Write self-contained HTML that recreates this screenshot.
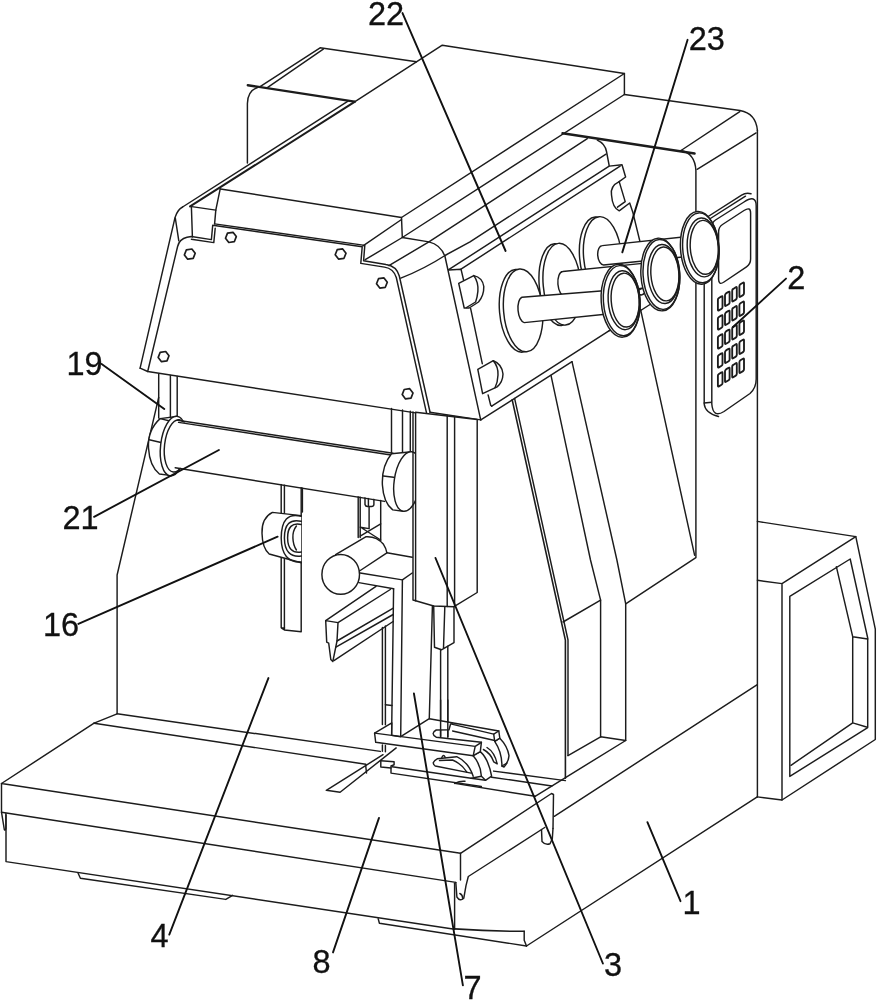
<!DOCTYPE html>
<html><head><meta charset="utf-8"><title>Fig</title>
<style>
html,body{margin:0;padding:0;background:#fff}
svg{display:block}
.g{stroke:#1c1c1c;stroke-width:1.45;fill:none;stroke-linecap:round;stroke-linejoin:round}
.w{fill:#fff}
.t{stroke-width:2.4}
.m{stroke-width:1.6}
.l{stroke:#111;stroke-width:1.9;fill:none;stroke-linecap:round}
text{font-family:"Liberation Sans",sans-serif;font-size:32.5px;fill:#111;stroke:#111;stroke-width:0.3px}
</style></head><body>
<svg width="877" height="1000" viewBox="0 0 877 1000">
<rect x="0" y="0" width="877" height="1000" fill="#fff" stroke="none"/>
<g class="g">
<!-- 10_base.svg -->
<!-- base body, column, side box -->
<path d="M757.3,684.6 L554.3,816.3"/>
<path d="M757.3,796.9 L526.5,946"/>
<path d="M757.4,130.4 V796.9"/>
<!-- side box -->
<path d="M757.4,521.4 L855.8,536.6 L875.3,629.2 V739.5 L782,800 L757.3,796.9"/>
<path d="M855.8,536.6 L782,583.6 L757.4,580.3 M782,583.6 V800"/>
<path d="M789.8,596.4 L850.2,559 L867.7,638 V727.6 L789.8,776.4 Z"/>
<path d="M836.4,566.8 L852.7,636.7 L867.7,639 M852.7,636.7 V722.9 L866.5,727 M852.7,722.9 L791,765.3"/>
<!-- column top -->
<path d="M624.4,94.5 L740,110.5 Q756,113.5 757.4,130.4"/>
<path class="t" d="M562.5,133.3 L694.6,153.5"/>
<path d="M681,150.5 Q695,153.5 695.9,170.5 V557.7 L625.7,603.9"/>
<path d="M681,150.5 L739.8,111.6 M697.1,169.3 L756.1,132.9"/>

<!-- 20_panels.svg -->
<!-- lower panels on the column front -->
<path class="m" d="M512.2,399.9 L565.4,640.2 V778.2"/>
<path d="M514.6,398.4 L568,640 V755.6"/>
<path d="M572,361.7 L616.9,560 L625.7,603.9 V740.5"/>
<path d="M551,375.4 L590.5,560 L600.6,600.1 V736.8"/>
<path d="M563,622 L600.6,600.1"/>
<path d="M600.6,736.8 L625.7,740.5 M600.6,736.8 L568,755.6 M625.7,740.5 L535.1,796.3"/>

<!-- 30_table.svg -->
<!-- table -->
<path d="M94.1,723.2 L1.5,783.5 L460.5,853.3 L551.5,793.5 L553.5,794.5 L553,828.4"/>
<path d="M94.1,723.2 L365.8,764.3"/>
<path d="M1.5,783.5 V812.2 L4.3,829.5 Q5.3,831 5.9,828.5 V813.5"/>
<path d="M1.5,812.2 L455.8,882.4"/>
<path d="M6,815 V861.6 L454.6,929.3"/>
<path d="M460.5,853.3 V880 M455.8,882.4 L456.9,897 Q460,901.8 463.8,898.2 L466,885.6 L468.3,876.5 L544.7,827.5"/>
<path d="M541.5,829.6 L542,841.5 Q545.5,845.5 550,843.8 L552.3,838.7 L553,828.4"/>
<path d="M459.8,893.5 Q462.5,894.5 462.8,898.5"/>
<path d="M454.6,883.3 V928.9"/>
<path class="m" d="M454.6,928.9 Q490,931.5 524.2,931.2"/>
<path d="M524.2,931.2 V940.3 L526.5,946"/>
<path d="M78,873 L80.4,878.2 L225.8,899.4 L232.6,895.3"/>
<path d="M378.2,918.7 L379.4,923.2 L526.5,946"/>
<!-- slot -->
<path d="M383,754.7 L326.3,790.3 L340.1,792.3 L396.2,747.9"/>
<path d="M365.6,764.6 L366.5,773"/>
<!-- body left (4) -->
<path d="M158.7,397.4 L117.1,575 V713.8 L94.1,723.2"/>
<path d="M117.1,713.8 L380.3,751.4"/>

<!-- 40_head.svg -->
<!-- rear box -->
<path d="M259.7,86.8 L320.1,47.8 L416.5,61.7"/>
<path d="M267,87.8 L323.3,49.2"/>
<path class="t" d="M247.8,85.2 L354.6,101.6"/>
<path d="M247.4,163 V103.5 Q247.6,90.5 258.1,87.2"/>
<!-- top slab -->
<path d="M355,101.7 L442.3,45.2 L624.4,73.5 V94.5"/>
<path class="m" style="stroke-width:2" d="M190.1,206.4 L355,101.7"/>
<path d="M182.6,207 L348,101.2"/>
<path d="M220.5,189 L401.5,217.5 L624.4,73.5"/>
<path d="M401.5,217.5 L402.3,237.5 L624.4,94.5"/>
<!-- front-left corner of head -->
<path d="M140.1,368.2 L175,217.6 Q177.5,209.5 182.6,207"/>
<path d="M140.1,368.2 L147.7,371.5"/>
<path d="M175.3,218 L178.8,240.8"/>
<path d="M190.1,206.4 L215.8,210.1"/>
<path d="M220.2,188.8 L215.8,210.1 L214.6,223.9"/>
<path d="M191.4,207 L192.4,237"/>
<!-- front plate outline -->
<path d="M147.7,371.5 L177.6,246.5 Q179.5,239 187,237.3 L191.4,236.5 L211.4,239.6 L212.7,225.2 L362.2,246.8 L360.8,263.4 L384.5,267.1 Q393.5,268.5 396.3,277.5 L426.9,414.6 Z"/>
<path d="M191.4,239.3 L213.8,242.6 L215.2,228.2 M214.6,223.9 L364.8,245.4 L363.6,260.7 L386,264.5 Q396.5,266 399.3,276 L430,412"/>
<!-- bevel lines to slab -->
<path d="M363,245.8 L401.5,219.5"/>
<path d="M365.2,259.7 L402.3,237.5"/>
<!-- right bevel of head -->
<path d="M402.3,237.5 L428.9,241.9 Q440.5,244.5 445,256.5 L480.7,419.8"/>
<path d="M429.9,412.3 L480.7,419.9"/>
<!-- head underside right -->
<path d="M480.8,419.9 L572,361.7"/>
<path d="M491.7,406.2 L608.9,330.9"/>
<!-- clip line -->
<path d="M448.7,270 L461,269.2 L463.8,281 M470.6,308.4 L482.3,363.7 M488.1,394.9 L490.7,405.3 L491.7,406.2"/>

<!-- 45_panel.svg -->
<!-- control panel (2) -->
<path d="M704.2,219 L741.6,195.2 Q746,192.3 751,193.8"/>
<path d="M708,220 L745.5,196.2"/>
<path d="M704.2,219 V404 Q705,413 718.5,416.5"/>
<path d="M704.2,403 L711.8,402.3"/>
<path class="w" d="M711.8,227 Q711.8,222.5 715.5,220 L744,202 Q756.2,194 756.2,206 V379 Q756.2,388 750,393.5 L724,411.5 Q713,418.5 711.8,404 Z"/>
<path d="M718.6,232 Q718.6,227 722.5,224.5 L744,210.5 Q750.6,206.3 750.6,213 V259 Q750.6,264 746.5,266.8 L724,282 Q718.6,285.8 718.6,279 Z"/>
<g style="stroke-width:1.85">
<path d="M717.9,299.8 Q717.9,298.6 718.9,298.0 L721.5,296.4 Q722.5,295.7 722.5,296.9 V306.9 Q722.5,308.1 721.5,308.8 L718.9,310.4 Q717.9,311.0 717.9,309.8 Z"/>
<path d="M725.0,295.2 Q725.0,294.1 726.0,293.4 L728.6,291.8 Q729.6,291.2 729.6,292.4 V302.4 Q729.6,303.6 728.6,304.2 L726.0,305.8 Q725.0,306.4 725.0,305.2 Z"/>
<path d="M732.2,290.7 Q732.2,289.5 733.2,288.9 L735.8,287.2 Q736.8,286.6 736.8,287.8 V297.8 Q736.8,299.0 735.8,299.6 L733.2,301.2 Q732.2,301.9 732.2,300.7 Z"/>
<path d="M739.4,286.2 Q739.4,285.0 740.4,284.3 L743.0,282.7 Q744.0,282.1 744.0,283.3 V293.3 Q744.0,294.5 743.0,295.1 L740.4,296.7 Q739.4,297.4 739.4,296.2 Z"/>
<path d="M717.9,318.8 Q717.9,317.6 718.9,317.0 L721.5,315.4 Q722.5,314.7 722.5,315.9 V325.9 Q722.5,327.1 721.5,327.8 L718.9,329.4 Q717.9,330.0 717.9,328.8 Z"/>
<path d="M725.0,314.2 Q725.0,313.1 726.0,312.4 L728.6,310.8 Q729.6,310.2 729.6,311.4 V321.4 Q729.6,322.6 728.6,323.2 L726.0,324.8 Q725.0,325.4 725.0,324.2 Z"/>
<path d="M732.2,309.7 Q732.2,308.5 733.2,307.9 L735.8,306.2 Q736.8,305.6 736.8,306.8 V316.8 Q736.8,318.0 735.8,318.6 L733.2,320.2 Q732.2,320.9 732.2,319.7 Z"/>
<path d="M739.4,305.2 Q739.4,304.0 740.4,303.3 L743.0,301.7 Q744.0,301.1 744.0,302.3 V312.3 Q744.0,313.5 743.0,314.1 L740.4,315.7 Q739.4,316.4 739.4,315.2 Z"/>
<path d="M717.9,337.8 Q717.9,336.6 718.9,336.0 L721.5,334.4 Q722.5,333.7 722.5,334.9 V344.9 Q722.5,346.1 721.5,346.8 L718.9,348.4 Q717.9,349.0 717.9,347.8 Z"/>
<path d="M725.0,333.2 Q725.0,332.1 726.0,331.4 L728.6,329.8 Q729.6,329.2 729.6,330.4 V340.4 Q729.6,341.6 728.6,342.2 L726.0,343.8 Q725.0,344.4 725.0,343.2 Z"/>
<path d="M732.2,328.7 Q732.2,327.5 733.2,326.9 L735.8,325.2 Q736.8,324.6 736.8,325.8 V335.8 Q736.8,337.0 735.8,337.6 L733.2,339.2 Q732.2,339.9 732.2,338.7 Z"/>
<path d="M739.4,324.2 Q739.4,323.0 740.4,322.3 L743.0,320.7 Q744.0,320.1 744.0,321.3 V331.3 Q744.0,332.5 743.0,333.1 L740.4,334.7 Q739.4,335.4 739.4,334.2 Z"/>
<path d="M717.9,356.8 Q717.9,355.6 718.9,355.0 L721.5,353.4 Q722.5,352.7 722.5,353.9 V363.9 Q722.5,365.1 721.5,365.8 L718.9,367.4 Q717.9,368.0 717.9,366.8 Z"/>
<path d="M725.0,352.2 Q725.0,351.1 726.0,350.4 L728.6,348.8 Q729.6,348.2 729.6,349.4 V359.4 Q729.6,360.6 728.6,361.2 L726.0,362.8 Q725.0,363.4 725.0,362.2 Z"/>
<path d="M732.2,347.7 Q732.2,346.5 733.2,345.9 L735.8,344.2 Q736.8,343.6 736.8,344.8 V354.8 Q736.8,356.0 735.8,356.6 L733.2,358.2 Q732.2,358.9 732.2,357.7 Z"/>
<path d="M739.4,343.2 Q739.4,342.0 740.4,341.3 L743.0,339.7 Q744.0,339.1 744.0,340.3 V350.3 Q744.0,351.5 743.0,352.1 L740.4,353.7 Q739.4,354.4 739.4,353.2 Z"/>
<path d="M717.9,375.8 Q717.9,374.6 718.9,374.0 L721.5,372.4 Q722.5,371.7 722.5,372.9 V382.9 Q722.5,384.1 721.5,384.8 L718.9,386.4 Q717.9,387.0 717.9,385.8 Z"/>
<path d="M725.0,371.2 Q725.0,370.1 726.0,369.4 L728.6,367.8 Q729.6,367.2 729.6,368.4 V378.4 Q729.6,379.6 728.6,380.2 L726.0,381.8 Q725.0,382.4 725.0,381.2 Z"/>
<path d="M732.2,366.7 Q732.2,365.5 733.2,364.9 L735.8,363.2 Q736.8,362.6 736.8,363.8 V373.8 Q736.8,375.0 735.8,375.6 L733.2,377.2 Q732.2,377.9 732.2,376.7 Z"/>
<path d="M739.4,362.2 Q739.4,361.0 740.4,360.3 L743.0,358.7 Q744.0,358.1 744.0,359.3 V369.3 Q744.0,370.5 743.0,371.1 L740.4,372.7 Q739.4,373.4 739.4,372.2 Z"/>
</g>

<!-- 50_side.svg -->
<!-- head right side lines -->
<path d="M388.9,265.6 L428.9,241.9 L587.3,138.7"/>
<path d="M400.8,278.2 Q425,268.5 445,255.5 L470,241.9 L540,196.5 L606,154.2"/>
<path d="M448.7,269.7 L609.2,166.1 L622,164.7 L625.6,177 L619.2,181.6"/>
<path d="M461,269.2 L620.1,166.1"/>
<path d="M597.3,140.1 Q605,143.5 606.5,151.5 L609.2,165.6"/>
<!-- right clip -->
<path d="M619.2,181.6 Q610,186 611.5,195 Q612.5,208 619.2,210.8 L629.7,203 L632.9,212.6 L640.3,243"/>
<path d="M619.2,181.6 L625.2,201.6 L617.5,207.2"/>
<!-- upper-left clip -->
<path class="w" d="M458.7,283.3 L473.8,275.6 Q482.5,277.5 483.8,286.5 Q484,295.5 478.5,302 L469.2,308 L464.2,308 Z"/>
<path d="M473.8,275.6 Q478.5,282 477.9,291.1 Q477.3,297.5 475.6,302 L466.5,307.5"/>
<!-- lower-left clip -->
<path class="w" d="M477.8,369.4 L493.3,360.7 Q502,364 503,374 Q502.8,382 497.1,386.9 L482.6,393.7 Z"/>
<path d="M493.3,360.7 Q498.5,367 498,375 Q497.8,382 495,387.8"/>
<!-- discs -->
<g transform="rotate(-5 600.6 256.7)"><ellipse class="w" cx="598.6" cy="256.7" rx="19" ry="40"/><ellipse class="w" cx="602.6" cy="256.7" rx="19" ry="40"/></g>
<g transform="rotate(-5 560 284.4)"><ellipse class="w" cx="558" cy="284.4" rx="18.8" ry="41"/><ellipse class="w" cx="562" cy="284.4" rx="18.8" ry="41"/></g>
<g transform="rotate(-5 521 310.6)"><ellipse class="w" cx="519" cy="310.6" rx="19.5" ry="41.5"/><ellipse class="w" cx="523.1" cy="310.6" rx="19.5" ry="41.5"/></g>
<!-- underside line continuing behind knobs -->
<path d="M608.9,330.9 L650,304.5"/>
<path d="M640.5,309.2 L694.6,555.2"/>
<!-- rod 3 + knob 3 -->
<path class="w" d="M690,236.3 L602.3,245.6 A5.2,9.7 -5 0 0 603.6,265 L690,256.2"/>
<g transform="rotate(-3.6 700 248)">
<ellipse class="w" cx="699.7" cy="247.9" rx="19.2" ry="36.4"/>
<ellipse cx="700.8" cy="247.9" rx="18.1" ry="35"/>
<ellipse cx="702.9" cy="247.6" rx="15.6" ry="29.5"/>
<ellipse cx="704.3" cy="247.6" rx="14" ry="27"/>
</g>
<!-- rod 2 + knob 2 -->
<path class="w" d="M650,262.6 L562.7,271.5 A5.8,12.3 -5 0 0 564.8,296.2 L650,287.4"/>
<path d="M639,290 Q642,287.5 644.5,288.5 M639.5,294.5 Q642.5,296 645,292.5"/>
<g transform="rotate(-3.6 660.3 274.5)">
<ellipse class="w" cx="660.3" cy="274.5" rx="19.4" ry="36.4"/>
<ellipse cx="661.4" cy="274.5" rx="18.3" ry="35"/>
<ellipse cx="663.5" cy="274.2" rx="15.6" ry="29.5"/>
<ellipse cx="664.9" cy="274.2" rx="14" ry="27"/>
</g>
<!-- rod 1 + knob 1 -->
<path class="w" d="M610,290.3 L522,297.3 A5.8,12.8 -5 0 0 524.2,322.6 L610,313.8"/>
<g transform="rotate(-3.6 620.6 300.7)">
<ellipse class="w" cx="620.6" cy="300.7" rx="19.4" ry="36.5"/>
<ellipse cx="621.7" cy="300.7" rx="18.3" ry="35.1"/>
<ellipse cx="623.8" cy="300.4" rx="15.6" ry="29.5"/>
<ellipse cx="625.2" cy="300.4" rx="14" ry="27"/>
</g>

<!-- 60_mid.svg -->
<!-- bracket 19 verticals and other verticals below head -->
<path d="M158.7,374 V418 M170.4,375.5 V419 M177.2,376.5 V416"/>
<path d="M391.5,408.5 V453 M402.5,410 V452 M410.3,411.3 V452"/>
<!-- strip behind roller -->
<path d="M281.2,484 V627.8 L284.4,630 L301.2,631.7 V487 M284.4,485 V630 M281.2,627.8 L284.6,627.9"/>
<path d="M302.4,488 V512"/>
<!-- things behind roller right -->
<path d="M358.2,495.7 V537.5 M360.2,496 V537.5 M380.7,498.5 V540.2"/>
<path d="M365,497 V504.5 Q365.5,506.5 367.5,506.5 H371.5 Q373.7,506.5 373.9,504.5 V498.5 M368.4,497.5 V506.3 M369.1,506.5 V528"/>
<path d="M360.2,527.2 L369.1,528.6 M360.2,536.1 L380.7,523.8 M361,527.5 L380.7,540"/>
<!-- cylinder 16 -->
<path class="w" d="M301.2,515.6 L272.4,512.4 Q261.5,518 262,533.2 Q262.3,548 269.2,554 L301.2,562.8"/>
<path d="M301.2,516.3 Q281.5,511 281.2,538 Q281.5,563 301.2,562"/>
<path d="M301.2,521.3 Q284.3,517.5 284.4,538 Q284.6,558 301.2,556"/>
<path d="M301.2,524.5 Q287.5,521.5 287.6,538 Q287.8,554 301.2,552"/>
<path d="M296.4,526 Q292.5,531 292.9,538 Q293.1,545 296.4,550"/>
<!-- roller 21 -->
<path class="w" d="M176.5,416.5 L160.1,418.6 Q147.5,430 148.5,448 Q149.5,466 159.4,474 L169.7,475.4"/>
<path d="M160.1,418.6 L171,421.2 M149.2,439.8 L161,442.5"/>
<g transform="rotate(6.6 173.1 446)"><ellipse class="w" cx="173.6" cy="446" rx="13" ry="30"/><ellipse cx="176.2" cy="445.5" rx="11.7" ry="26.3"/></g>
<path class="w" stroke="none" d="M178.5,421.8 L393,454.5 L384.6,500.4 L175.5,467 Q185,446 178.5,421.8 Z"/>
<path d="M177.6,420.2 L393,453.2 M178.6,422.4 L392.6,455.2"/>
<path d="M175.2,467.8 L384.6,501.4"/>
<!-- right ring -->
<path class="w" d="M391.5,453.7 Q381.5,466 382.4,485 Q383.5,503 392.8,509.9 L403.2,511.2 L411.8,451.8 Z"/>
<path d="M383.3,476 L393.5,477.3"/>
<g transform="rotate(8.2 407.5 481.5)"><ellipse class="w" cx="407.5" cy="481.5" rx="13.3" ry="30"/></g>
<!-- needle bar housing -->
<path class="w" d="M415.6,412.2 V600.8 L433.7,606 L454,606.7 L477.2,592.5 V419.5 Z"/>
<path d="M413,412 V600 L415.6,600.8 M447.2,415.5 V606.4 M454.6,416.5 V606.5"/>
<path d="M433.7,606 L434.5,647.2 L441.4,649.8 L454,642.7 V606.7 M444.8,607 L443.5,648.5"/>
<path d="M440.6,649.5 V736.5 M447.8,646.3 V737"/>
<!-- horizontal cylinder + bracket 7 -->
<path d="M386.9,552.8 L412.2,557.3 M360.2,573 L402.4,579.9 L412.2,573 M358.8,582.6 L393.6,588.8"/>
<path d="M393.6,588.8 L391.6,735.3 M402.4,579.9 L400.7,736.7 M432.4,606.5 L429.3,718"/>
<path class="w" d="M335.6,554.6 L365.7,536.8 Q376.6,536 383.5,544.3 Q386,548 386.9,552.8 L359.5,571 Z"/>
<ellipse class="w" cx="340.7" cy="574.4" rx="18.8" ry="19.9"/>
<!-- angled bar -->
<path d="M325.7,620.6 L338,622.6 L337,641 L332.8,661.6 L330.8,659.5 L328.7,643.1 L326.7,642.1 Z"/>
<path d="M325.7,620.6 L376,586.3 M338,622.6 L390.3,589.5 M337,641 L393.3,608.2 M335.9,647.2 L393.2,614.5 M333.9,660.6 L393.1,621.5"/>
<path d="M382.4,627.5 V724.6 M385.4,626 V724.8"/>
<path d="M385.4,704.7 L392,705.5"/>

<!-- 70_foot.svg -->
<!-- table lines near foot -->
<path d="M454.7,783.4 L535.1,796.3 M493.7,771.1 L565.4,780.6 M491.6,777.2 L551.9,786"/>
<path d="M454.7,783.4 Q460,780.8 465,781.3"/>
<!-- lower plate -->
<path d="M380.8,760.8 L394.1,761.8 V764.8 L391,766 V773.1 L481.4,786.5"/>
<path d="M380.8,760.8 V767 L391,768 M392.1,766.8 L471.1,778.3"/>
<!-- lower hole + sled arc -->
<path d="M435.2,766 Q430.5,762.5 437.2,758.8 L456.7,756.7 Q468.5,762 473.2,776.2 M435.2,766 L471.1,773.1"/>
<path d="M439.5,760.5 L452.5,760 Q462,764 467,772.3"/>
<path d="M441.8,757.6 Q443.4,753.6 445.2,757.4"/>
<!-- back leg -->
<path class="w" d="M494.7,741.3 L499.8,738.2 Q507.5,746 509,755.7 Q508.5,762 504,767 L501.9,766 Q502,752 494.7,741.3 Z"/>
<path d="M501.9,766 L507,763"/>
<path d="M483.4,749.5 Q491,753.5 493.7,761.8 M487,747.5 Q494.5,752 497.2,763.8 M493.7,761.8 L497.2,763.8"/>
<!-- front leg -->
<path class="w" d="M473.2,755.7 L480.3,751.6 Q488.5,759 491.6,776.2 L485.5,780.3 L471.1,778.3 L481.4,776.2 Q480.5,764 473.2,755.7 Z"/>
<path d="M481.4,776.2 L485.5,780.3"/>
<!-- upper plate (fork) -->
<path class="w" d="M374.6,733.1 L391.8,722.8 L391.6,735.3 L400.7,736.7 L429.3,718.7 L498.8,731 L499.8,738.2 L494.7,741.3 L493.7,734.1 L450.6,723.9 L449,729.8 L436.2,730 Q430,733.5 436.2,737.2 L481.4,742.3 L480.3,751.6 L473.2,755.7 L375.7,742.3 Z"/>
<path d="M374.6,733.1 L475.2,746.4 L473.2,755.7 M475.2,746.4 L481.4,742.3 M493.7,734.1 L498.8,731 M452.6,731 L493.7,740.3"/>
<!-- arm bits below plate -->
<path d="M382.4,745 V751.3 M385.4,745.4 V751.8"/>
<!-- needle -->
<path d="M440.6,700 V736.5 M447.8,700 V737"/>

<!-- 80_bolts.svg -->
<!-- hex bolts -->
<g style="stroke-width:1.7">
<polygon points="195.2,253.3 193.2,258.4 187.7,259.2 184.4,254.9 186.4,249.8 191.9,249.0"/>
<polygon points="236.3,236.6 234.3,241.7 228.8,242.5 225.5,238.2 227.5,233.1 233.0,232.3"/>
<polygon points="169.0,355.8 167.0,360.9 161.5,361.7 158.2,357.4 160.2,352.3 165.7,351.5"/>
<polygon points="346.0,253.2 344.0,258.3 338.5,259.1 335.2,254.8 337.2,249.7 342.7,248.9"/>
<polygon points="387.3,282.2 385.3,287.3 379.8,288.1 376.5,283.8 378.5,278.7 384.0,277.9"/>
<polygon points="413.0,393.0 411.0,398.1 405.5,398.9 402.2,394.6 404.2,389.5 409.7,388.7"/>
</g>

<!-- 90_labels.svg -->
</g><g style="filter:grayscale(1)">
<!-- leaders -->
<path class="l" d="M402.5,13.1 L505.6,251"/>
<path class="l" d="M687.6,39.8 L622.3,252.4"/>
<path class="l" d="M786,278.6 L733,327"/>
<path class="l" d="M101.6,363.9 L164.3,409"/>
<path class="l" d="M94.1,516.8 L218.9,450"/>
<path class="l" d="M78.4,623.9 L277.6,536.7"/>
<path class="l" d="M268.4,678.1 L169.3,934.6"/>
<path class="l" d="M379,817.9 L333,952.4"/>
<path class="l" d="M413.9,693.4 L462.9,985.4"/>
<path class="l" d="M435.5,558 L602.9,963.5"/>
<path class="l" d="M647.4,822.2 L680.5,901.2"/>
<text x="368" y="24.6">22</text>
<text x="688.8" y="50.1">23</text>
<text x="787.3" y="288.8">2</text>
<text x="66.5" y="375.3">19</text>
<text x="62.5" y="528.5">21</text>
<text x="43" y="636">16</text>
<text x="150.5" y="946.5">4</text>
<text x="312.5" y="972.6">8</text>
<text x="463.5" y="999">7</text>
<text x="603.9" y="975.7">3</text>
<text x="682.5" y="914.2">1</text>
</g>
</svg>
</body></html>
